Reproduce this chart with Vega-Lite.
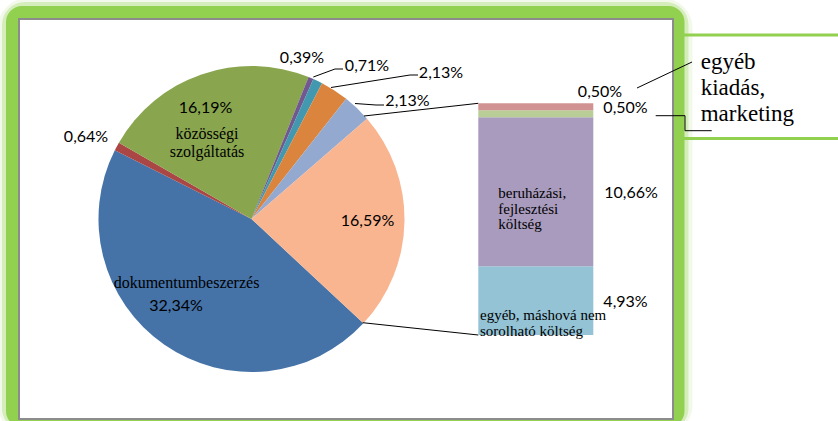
{
  "$schema": "https://vega.github.io/schema/vega-lite/v6.json",
  "width": 838,
  "height": 421,
  "autosize": {"type": "none"},
  "padding": 0,
  "background": "#ffffff",
  "config": {"view": {"stroke": null}},
  "datasets": {
    "pie": [
      {"cat": "dokumentumbeszerzés", "value": 32.34, "label": "32,34%", "rank": 1},
      {"cat": "tétel 2", "value": 0.64, "label": "0,64%", "rank": 2},
      {"cat": "közösségi szolgáltatás", "value": 16.19, "label": "16,19%", "rank": 3},
      {"cat": "tétel 4", "value": 0.39, "label": "0,39%", "rank": 4},
      {"cat": "tétel 5", "value": 0.71, "label": "0,71%", "rank": 5},
      {"cat": "tétel 6", "value": 2.13, "label": "2,13%", "rank": 6},
      {"cat": "tétel 7", "value": 2.13, "label": "2,13%", "rank": 7},
      {"cat": "egyéb", "value": 16.59, "label": "16,59%", "rank": 8}
    ],
    "bar": [
      {"cat": "egyéb, máshová nem\nsorolható költség", "value": 4.93, "label": "4,93%", "rank": 1},
      {"cat": "beruházási, fejlesztési költség", "value": 10.66, "label": "10,66%", "rank": 2},
      {"cat": "marketing", "value": 0.5, "label": "0,50%", "rank": 3},
      {"cat": "egyéb kiadás", "value": 0.5, "label": "0,50%", "rank": 4}
    ]
  },
  "resolve": {"scale": {"y": "independent", "color": "independent"}},
  "layer": [
    {
      "layer": [
        {
          "data": {"values": [{}]},
          "mark": {"type": "rect", "fill": null, "stroke": "#92D050", "strokeWidth": 28, "strokeOpacity": 0.12, "cornerRadius": 16},
          "encoding": {
            "x": {"datum": 12, "type": "quantitative", "scale": {"domain": [0, 838], "nice": false, "zero": false}, "axis": null},
            "x2": {"datum": 678.5},
            "y": {"datum": 12, "type": "quantitative", "scale": {"domain": [0, 421], "reverse": true, "nice": false, "zero": false}, "axis": null},
            "y2": {"datum": 421}
          }
        },
        {
          "data": {"values": [{}]},
          "mark": {"type": "rect", "fill": null, "stroke": "#92D050", "strokeWidth": 20, "strokeOpacity": 0.3, "cornerRadius": 13},
          "encoding": {"x": {"datum": 12}, "x2": {"datum": 678.5}, "y": {"datum": 12}, "y2": {"datum": 421}}
        },
        {
          "data": {"values": [{}]},
          "mark": {"type": "rule", "color": "#92D050", "strokeWidth": 3},
          "encoding": {"x": {"datum": 676}, "x2": {"datum": 838}, "y": {"datum": 35}}
        },
        {
          "data": {"values": [{}]},
          "mark": {"type": "rule", "color": "#92D050", "strokeWidth": 3},
          "encoding": {"x": {"datum": 676}, "x2": {"datum": 838}, "y": {"datum": 138.5}}
        },
        {
          "data": {"values": [{}]},
          "mark": {"type": "rect", "fill": null, "stroke": "#92D050", "strokeWidth": 12, "cornerRadius": 10},
          "encoding": {"x": {"datum": 12}, "x2": {"datum": 678.5}, "y": {"datum": 12}, "y2": {"datum": 421}}
        },
        {
          "data": {"values": [{}]},
          "mark": {"type": "rect", "fill": "#ffffff", "stroke": "#8C8C8C", "strokeWidth": 2},
          "encoding": {"x": {"datum": 19}, "x2": {"datum": 673}, "y": {"datum": 19}, "y2": {"datum": 419}}
        },
        {
          "data": {"name": "pie"},
          "mark": {"type": "arc", "radius": 153},
          "encoding": {
            "x": {"datum": 251.5, "type": "quantitative"},
            "y": {"datum": 219, "type": "quantitative"},
            "theta": {"field": "value", "type": "quantitative", "stack": true, "scale": {"range": [2.3213, 8.6045]}},
            "order": {"field": "rank", "type": "quantitative"},
            "color": {
              "field": "cat",
              "type": "nominal",
              "scale": {
                "domain": ["dokumentumbeszerzés", "tétel 2", "közösségi szolgáltatás", "tétel 4", "tétel 5", "tétel 6", "tétel 7", "egyéb"],
                "range": ["#4572A7", "#AA4643", "#89A54E", "#71588F", "#4198AF", "#DB843D", "#93A9CF", "#F9B590"]
              },
              "legend": null
            }
          }
        },
        {"data": {"values": [{}]}, "mark": {"type": "rule", "color": "#000000", "strokeWidth": 1}, "encoding": {"x": {"datum": 313.3}, "y": {"datum": 77}, "x2": {"datum": 335}, "y2": {"datum": 69}}},
        {"data": {"values": [{}]}, "mark": {"type": "rule", "color": "#000000", "strokeWidth": 1}, "encoding": {"x": {"datum": 335}, "y": {"datum": 69}, "x2": {"datum": 343}, "y2": {"datum": 69}}},
        {"data": {"values": [{}]}, "mark": {"type": "rule", "color": "#000000", "strokeWidth": 1}, "encoding": {"x": {"datum": 331}, "y": {"datum": 87.5}, "x2": {"datum": 410}, "y2": {"datum": 75}}},
        {"data": {"values": [{}]}, "mark": {"type": "rule", "color": "#000000", "strokeWidth": 1}, "encoding": {"x": {"datum": 410}, "y": {"datum": 75}, "x2": {"datum": 418}, "y2": {"datum": 75}}},
        {"data": {"values": [{}]}, "mark": {"type": "rule", "color": "#000000", "strokeWidth": 1}, "encoding": {"x": {"datum": 355}, "y": {"datum": 103.5}, "x2": {"datum": 376}, "y2": {"datum": 105}}},
        {"data": {"values": [{}]}, "mark": {"type": "rule", "color": "#000000", "strokeWidth": 1}, "encoding": {"x": {"datum": 376}, "y": {"datum": 105}, "x2": {"datum": 384}, "y2": {"datum": 105}}},
        {"data": {"values": [{}]}, "mark": {"type": "rule", "color": "#000000", "strokeWidth": 1}, "encoding": {"x": {"datum": 364}, "y": {"datum": 116}, "x2": {"datum": 478.3}, "y2": {"datum": 103.3}}},
        {"data": {"values": [{}]}, "mark": {"type": "rule", "color": "#000000", "strokeWidth": 1}, "encoding": {"x": {"datum": 362.7}, "y": {"datum": 322.7}, "x2": {"datum": 478.3}, "y2": {"datum": 335}}},
        {"data": {"name": "pie"}, "transform": [{"filter": "datum.rank == 1"}], "mark": {"type": "text", "font": "Lato", "fontSize": 16, "align": "center", "baseline": "alphabetic", "color": "#000000"}, "encoding": {"x": {"datum": 176}, "y": {"datum": 311}, "text": {"field": "label"}}},
        {"data": {"name": "pie"}, "transform": [{"filter": "datum.rank == 1"}], "mark": {"type": "text", "font": "Liberation Serif", "fontSize": 16, "align": "center", "baseline": "alphabetic", "color": "#000000"}, "encoding": {"x": {"datum": 186.5}, "y": {"datum": 288}, "text": {"field": "cat"}}},
        {"data": {"name": "pie"}, "transform": [{"filter": "datum.rank == 2"}], "mark": {"type": "text", "font": "Lato", "fontSize": 16, "align": "center", "baseline": "alphabetic", "color": "#000000"}, "encoding": {"x": {"datum": 86}, "y": {"datum": 142}, "text": {"field": "label"}}},
        {"data": {"name": "pie"}, "transform": [{"filter": "datum.rank == 3"}], "mark": {"type": "text", "font": "Lato", "fontSize": 16, "align": "center", "baseline": "alphabetic", "color": "#000000"}, "encoding": {"x": {"datum": 205.5}, "y": {"datum": 113}, "text": {"field": "label"}}},
        {"data": {"name": "pie"}, "transform": [{"filter": "datum.rank == 3"}], "mark": {"type": "text", "font": "Liberation Serif", "fontSize": 16, "align": "center", "baseline": "alphabetic", "lineBreak": " ", "lineHeight": 18, "color": "#000000"}, "encoding": {"x": {"datum": 207}, "y": {"datum": 139}, "text": {"field": "cat"}}},
        {"data": {"name": "pie"}, "transform": [{"filter": "datum.rank == 4"}], "mark": {"type": "text", "font": "Lato", "fontSize": 16, "align": "center", "baseline": "alphabetic", "color": "#000000"}, "encoding": {"x": {"datum": 302}, "y": {"datum": 63}, "text": {"field": "label"}}},
        {"data": {"name": "pie"}, "transform": [{"filter": "datum.rank == 5"}], "mark": {"type": "text", "font": "Lato", "fontSize": 16, "align": "center", "baseline": "alphabetic", "color": "#000000"}, "encoding": {"x": {"datum": 367}, "y": {"datum": 71}, "text": {"field": "label"}}},
        {"data": {"name": "pie"}, "transform": [{"filter": "datum.rank == 6"}], "mark": {"type": "text", "font": "Lato", "fontSize": 16, "align": "center", "baseline": "alphabetic", "color": "#000000"}, "encoding": {"x": {"datum": 441}, "y": {"datum": 77.5}, "text": {"field": "label"}}},
        {"data": {"name": "pie"}, "transform": [{"filter": "datum.rank == 7"}], "mark": {"type": "text", "font": "Lato", "fontSize": 16, "align": "center", "baseline": "alphabetic", "color": "#000000"}, "encoding": {"x": {"datum": 407.5}, "y": {"datum": 105.5}, "text": {"field": "label"}}},
        {"data": {"name": "pie"}, "transform": [{"filter": "datum.rank == 8"}], "mark": {"type": "text", "font": "Lato", "fontSize": 16, "align": "center", "baseline": "alphabetic", "color": "#000000"}, "encoding": {"x": {"datum": 367.5}, "y": {"datum": 226}, "text": {"field": "label"}}}
      ]
    },
    {
      "data": {"name": "bar"},
      "transform": [
        {"stack": "value", "groupby": [], "sort": [{"field": "rank", "order": "ascending"}], "as": ["v0", "v1"]}
      ],
      "mark": {"type": "bar"},
      "encoding": {
        "x": {"datum": 478.3, "type": "quantitative"},
        "x2": {"datum": 593.3},
        "y": {"field": "v0", "type": "quantitative", "scale": {"domain": [-6.158, 23.987], "nice": false, "zero": false}, "axis": null},
        "y2": {"field": "v1"},
        "color": {
          "field": "cat",
          "type": "nominal",
          "scale": {
            "domain": ["egyéb, máshová nem\nsorolható költség", "beruházási, fejlesztési költség", "marketing", "egyéb kiadás"],
            "range": ["#93C3D5", "#A99BBD", "#B9CD96", "#D19392"]
          },
          "legend": null
        }
      }
    },
    {
      "layer": [
        {"data": {"name": "bar"}, "transform": [{"filter": "datum.rank == 4"}], "mark": {"type": "text", "font": "Lato", "fontSize": 16, "align": "center", "baseline": "alphabetic", "color": "#000000"}, "encoding": {"x": {"datum": 600}, "y": {"datum": 97, "type": "quantitative", "scale": {"domain": [0, 421], "reverse": true, "nice": false, "zero": false}, "axis": null}, "text": {"field": "label"}}},
        {"data": {"name": "bar"}, "transform": [{"filter": "datum.rank == 3"}], "mark": {"type": "text", "font": "Lato", "fontSize": 16, "align": "center", "baseline": "alphabetic", "color": "#000000"}, "encoding": {"x": {"datum": 625.5}, "y": {"datum": 113}, "text": {"field": "label"}}},
        {"data": {"name": "bar"}, "transform": [{"filter": "datum.rank == 2"}], "mark": {"type": "text", "font": "Lato", "fontSize": 16, "align": "center", "baseline": "alphabetic", "color": "#000000"}, "encoding": {"x": {"datum": 631}, "y": {"datum": 198}, "text": {"field": "label"}}},
        {"data": {"name": "bar"}, "transform": [{"filter": "datum.rank == 1"}], "mark": {"type": "text", "font": "Lato", "fontSize": 16, "align": "center", "baseline": "alphabetic", "color": "#000000"}, "encoding": {"x": {"datum": 625.5}, "y": {"datum": 307}, "text": {"field": "label"}}},
        {"data": {"name": "bar"}, "transform": [{"filter": "datum.rank == 2"}], "mark": {"type": "text", "font": "Liberation Serif", "fontSize": 15, "align": "left", "baseline": "alphabetic", "lineBreak": " ", "lineHeight": 15.5, "color": "#000000"}, "encoding": {"x": {"datum": 498.3}, "y": {"datum": 198}, "text": {"field": "cat"}}},
        {"data": {"name": "bar"}, "transform": [{"filter": "datum.rank == 1"}], "mark": {"type": "text", "font": "Liberation Serif", "fontSize": 15, "align": "left", "baseline": "alphabetic", "lineBreak": "\n", "lineHeight": 16, "color": "#000000"}, "encoding": {"x": {"datum": 480}, "y": {"datum": 320}, "text": {"field": "cat"}}},
        {"data": {"values": [{}]}, "mark": {"type": "text", "font": "Liberation Serif", "fontSize": 23, "align": "left", "baseline": "alphabetic", "lineHeight": 26, "color": "#000000"}, "encoding": {"x": {"datum": 700.7}, "y": {"datum": 69}, "text": {"value": ["egyéb", "kiadás,", "marketing"]}}},
        {"data": {"values": [{}]}, "mark": {"type": "rule", "color": "#000000", "strokeWidth": 1}, "encoding": {"x": {"datum": 637}, "y": {"datum": 88}, "x2": {"datum": 692}, "y2": {"datum": 62}}},
        {"data": {"values": [{}]}, "mark": {"type": "rule", "color": "#000000", "strokeWidth": 1}, "encoding": {"x": {"datum": 655.7}, "y": {"datum": 115.7}, "x2": {"datum": 685}, "y2": {"datum": 115.7}}},
        {"data": {"values": [{}]}, "mark": {"type": "rule", "color": "#000000", "strokeWidth": 1}, "encoding": {"x": {"datum": 685}, "y": {"datum": 115.7}, "x2": {"datum": 685}, "y2": {"datum": 130.7}}},
        {"data": {"values": [{}]}, "mark": {"type": "rule", "color": "#000000", "strokeWidth": 1}, "encoding": {"x": {"datum": 685}, "y": {"datum": 130.7}, "x2": {"datum": 711.7}, "y2": {"datum": 130.7}}}
      ]
    }
  ]
}
